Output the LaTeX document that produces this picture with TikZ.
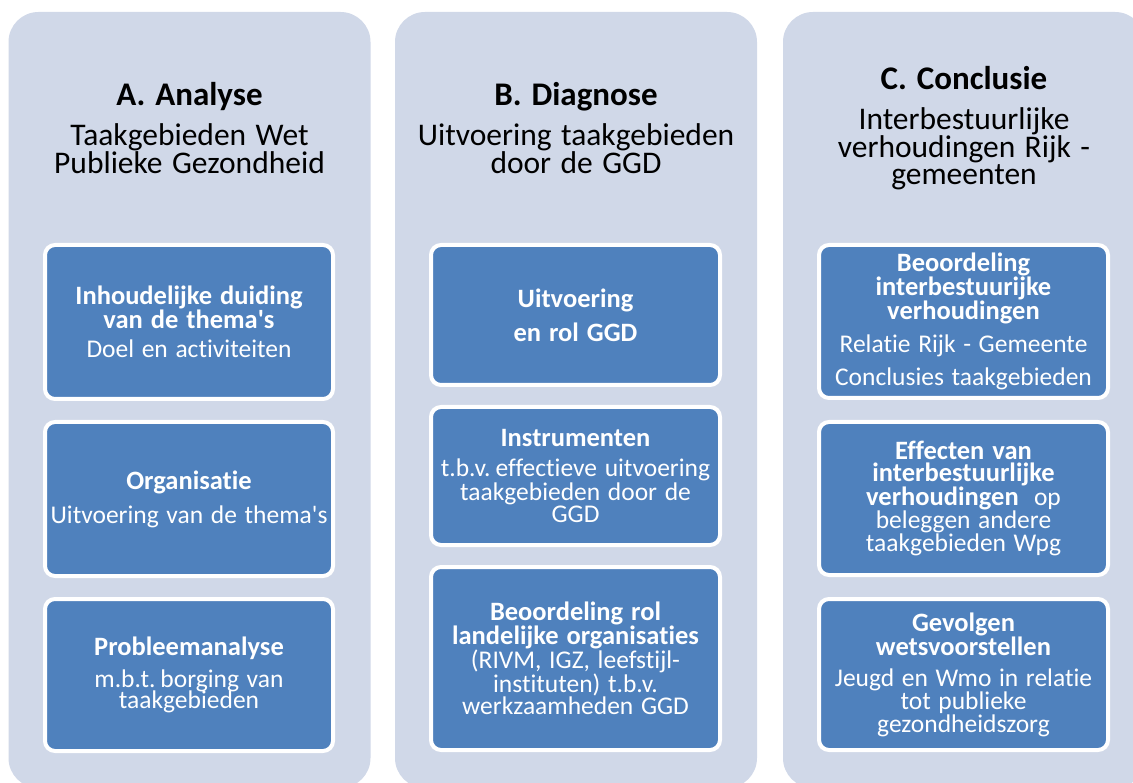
\documentclass[tikz,border=0pt]{standalone}
\usepackage{fontspec}
\setmainfont{Carlito}[Ligatures={TeX,NoCommon}]
\definecolor{colbg}{RGB}{208,216,232}
\definecolor{boxblue}{RGB}{79,129,189}
\newcommand\ttlB{\fontsize{33}{28}\selectfont\bfseries\spaceskip=0.3em\relax}
\newcommand\ttlR{\fontsize{31.5}{28}\selectfont\mdseries\spaceskip=0.3em\relax}
\newcommand\boxB{\fontsize{26.5}{22}\selectfont\bfseries\spaceskip=0.3em\relax}
\newcommand\boxR{\fontsize{25.5}{22}\selectfont\mdseries\spaceskip=0.3em\relax}
\tikzset{
  colbox/.style={fill=colbg, draw=none, rounded corners=30pt, minimum width=362pt, minimum height=776pt, inner sep=0pt},
  bluebox/.style={fill=boxblue, draw=white, line width=4pt, rounded corners=10pt, text=white, align=center, text width=284pt, inner sep=1pt},
  titletext/.style={text=black, align=center, text width=350pt, inner sep=0pt}
}
\begin{document}
\begin{tikzpicture}[x=1pt,y=-1pt]
\useasboundingbox (0,0) rectangle (1133,783);
\clip (0,0) rectangle (1133,783);
\fill[white] (0,0) rectangle (1133,783);
% columns
\node[colbox] (colA) at (189.5,400) {};
\node[colbox] (colB) at (576,400) {};
\node[colbox] (colC) at (964,400) {};
% titles
\node[titletext] (tA) at (189.5,128) {\ttlB A. Analyse\\[12pt]\ttlR Taakgebieden Wet\\Publieke Gezondheid};
\node[titletext] (tB) at (576,128) {\ttlB B. Diagnose\\[12pt]\ttlR Uitvoering taakgebieden\\door de GGD};
\node[titletext] (tC) at (964,128) {\ttlB C. Conclusie\\[12pt]\ttlR Interbestuurlijke\\verhoudingen Rijk -\\gemeenten};
% column A
\node[bluebox, minimum width=288pt, minimum height=154pt] (a1) at (189,322)
  {\boxB Inhoudelijke duiding\\van de thema\textquotesingle s\\[10pt]\boxR Doel en activiteiten};
\node[bluebox, minimum width=288pt, minimum height=154pt] (a2) at (189,499)
  {\boxB Organisatie\\[11pt]\boxR Uitvoering van de thema\textquotesingle s};
\node[bluebox, minimum width=288pt, minimum height=152pt] (a3) at (189,675)
  {\boxB Probleemanalyse\\[10pt]\boxR m.b.t. borging van\\[-2pt]taakgebieden};
% column B
\node[bluebox, minimum width=289pt, minimum height=140pt] (b1) at (575.5,315)
  {\boxB Uitvoering\\[10pt]en rol GGD};
\node[bluebox, minimum width=289pt, minimum height=138pt] (b2) at (575.5,476)
  {\boxB Instrumenten\\[8pt]\boxR t.b.v. effectieve uitvoering\\taakgebieden door de\\GGD};
\node[bluebox, minimum width=289pt, minimum height=183pt] (b3) at (575.5,658.5)
  {\boxB Beoordeling rol\\landelijke organisaties\\\boxR (RIVM, IGZ, leefstijl-\\instituten) t.b.v.\\werkzaamheden GGD};
% column C
\node[bluebox, minimum width=289pt, minimum height=153pt] (c1) at (963.5,321.5)
  {\boxB Beoordeling\\interbestuurijke\\verhoudingen\\[10pt]\boxR Relatie Rijk - Gemeente\\[10pt]Conclusies taakgebieden};
\node[bluebox, minimum width=289pt, minimum height=153pt] (c2) at (963.5,498.5)
  {\boxB Effecten van\\interbestuurlijke\\verhoudingen\boxR{} ~op\\beleggen andere\\taakgebieden Wpg};
\node[bluebox, minimum width=289pt, minimum height=151pt] (c3) at (963.5,674.5)
  {\boxB Gevolgen\\wetsvoorstellen\\[9pt]\boxR Jeugd en Wmo in relatie\\tot publieke\\gezondheidszorg};
\end{tikzpicture}
\end{document}
